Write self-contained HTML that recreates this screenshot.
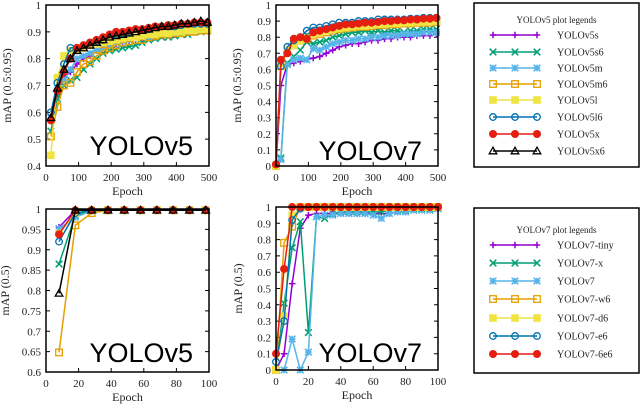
<!DOCTYPE html>
<html><head><meta charset="utf-8"><style>
body{margin:0;background:#fff}
svg{display:block}
text{font-family:"Liberation Serif",serif;fill:#222}
</style></head><body>
<svg id="c" width="640" height="406"></svg>
<script>
// ---- data ----
const tlEpochs=[15,35,55,75,95,115,135,155,175,195,215,235,255,275,295,315,335,355,375,395,415,435,455,475,495];
const v5s=[0.57,0.67,0.73,0.75,0.78,0.80,0.81,0.83,0.84,0.85,0.855,0.86,0.865,0.87,0.875,0.88,0.88,0.885,0.89,0.89,0.895,0.90,0.90,0.905,0.905];
const v5s6=[0.53,0.65,0.70,0.72,0.73,0.76,0.78,0.80,0.82,0.83,0.835,0.84,0.845,0.85,0.86,0.87,0.875,0.88,0.88,0.885,0.89,0.89,0.90,0.90,0.905];
const v5m=[0.58,0.69,0.72,0.76,0.80,0.81,0.82,0.83,0.84,0.85,0.86,0.865,0.87,0.875,0.88,0.88,0.885,0.89,0.89,0.895,0.90,0.90,0.905,0.905,0.91];
const v5m6=[0.51,0.62,0.70,0.71,0.75,0.78,0.79,0.81,0.83,0.84,0.85,0.86,0.865,0.87,0.87,0.88,0.885,0.89,0.89,0.895,0.895,0.90,0.90,0.905,0.905];
const v5l=[0.44,0.73,0.81,0.83,0.835,0.84,0.85,0.855,0.86,0.865,0.87,0.875,0.88,0.88,0.885,0.89,0.89,0.895,0.895,0.90,0.90,0.905,0.905,0.91,0.91];
const v5l6=[0.60,0.71,0.78,0.84,0.84,0.85,0.86,0.865,0.87,0.89,0.89,0.895,0.90,0.91,0.91,0.91,0.92,0.92,0.92,0.92,0.925,0.93,0.93,0.93,0.93];
const v5x=[0.57,0.68,0.75,0.80,0.84,0.85,0.86,0.87,0.88,0.89,0.90,0.90,0.905,0.91,0.91,0.915,0.92,0.92,0.925,0.925,0.93,0.93,0.935,0.935,0.935];
const v5x6=[0.58,0.69,0.76,0.80,0.83,0.84,0.85,0.86,0.87,0.88,0.885,0.89,0.895,0.90,0.905,0.91,0.915,0.92,0.92,0.925,0.93,0.93,0.935,0.94,0.935];

const trEpochs=[0,15,35,55,75,95,115,135,155,175,195,215,235,255,275,295,315,335,355,375,395,415,435,455,475,495];
const v7tiny=[0.0,0.50,0.63,0.64,0.65,0.66,0.67,0.68,0.70,0.72,0.74,0.75,0.76,0.76,0.77,0.78,0.78,0.79,0.79,0.80,0.80,0.80,0.81,0.81,0.81,0.82];
const v7x=[0.0,0.05,0.64,0.68,0.72,0.77,0.76,0.77,0.78,0.80,0.81,0.82,0.83,0.83,0.84,0.83,0.84,0.83,0.84,0.84,0.83,0.84,0.84,0.85,0.85,0.85];
const v7=[0.0,0.04,0.63,0.66,0.67,0.66,0.73,0.72,0.74,0.76,0.77,0.78,0.78,0.79,0.79,0.80,0.80,0.81,0.81,0.81,0.82,0.82,0.82,0.83,0.83,0.83];
const v7w6=[0.0,0.62,0.71,0.75,0.78,0.79,0.81,0.82,0.83,0.84,0.85,0.855,0.86,0.865,0.865,0.87,0.875,0.875,0.88,0.88,0.885,0.885,0.89,0.89,0.89,0.895];
const v7d6=[0.0,0.64,0.72,0.75,0.78,0.80,0.82,0.83,0.84,0.85,0.855,0.86,0.865,0.87,0.87,0.875,0.88,0.88,0.885,0.885,0.89,0.89,0.895,0.895,0.90,0.90];
const v7e6=[0.01,0.62,0.74,0.78,0.80,0.84,0.86,0.86,0.87,0.88,0.89,0.89,0.89,0.90,0.90,0.90,0.91,0.91,0.91,0.91,0.91,0.915,0.915,0.92,0.92,0.92];
const v7e6e6=[0.01,0.66,0.70,0.79,0.80,0.79,0.83,0.84,0.85,0.86,0.87,0.88,0.88,0.885,0.89,0.89,0.895,0.90,0.90,0.905,0.905,0.91,0.91,0.915,0.915,0.92];

const blEpochs=[8,18,28,38,48,58,68,78,88,98];
const b5s=[0.955,0.997,0.997,0.997,0.997,0.997,0.997,0.997,0.997,0.997];
const b5s6=[0.865,0.985,0.995,0.997,0.997,0.997,0.997,0.997,0.997,0.997];
const b5m=[0.952,0.98,0.995,0.997,0.997,0.997,0.997,0.997,0.997,0.997];
const b5m6=[0.648,0.96,0.99,0.997,0.997,0.997,0.997,0.997,0.997,0.997];
const b5l=[0.94,0.99,0.997,0.997,0.997,0.997,0.997,0.997,0.997,0.997];
const b5l6=[0.92,0.99,0.997,0.997,0.997,0.997,0.997,0.997,0.997,0.997];
const b5x=[0.938,0.997,0.997,0.997,0.997,0.997,0.997,0.997,0.997,0.997];
const b5x6=[0.793,0.997,0.997,0.997,0.997,0.997,0.997,0.997,0.997,0.997];

const brEpochs=[0,5,10,15,20,25,30,35,40,45,50,55,60,65,70,75,80,85,90,95,100];
const b7tiny=[0,0.10,0.53,0.87,0.95,0.96,0.96,0.96,0.96,0.96,0.96,0.96,0.96,0.96,0.96,0.97,0.97,0.98,0.99,0.99,0.99];
const b7x=[0,0.41,0.75,0.91,0.23,0.94,0.93,0.96,0.97,0.97,0.97,0.97,0.97,0.97,0.98,0.98,0.98,0.99,0.99,0.99,0.99];
const b7=[0,0,0.19,0,0.11,0.94,0.95,0.95,0.96,0.96,0.96,0.96,0.95,0.93,0.96,0.97,0.97,0.98,0.98,0.98,0.99];
const b7w6=[0,0.78,0.88,1,1,1,1,1,1,1,1,1,1,1,1,1,1,1,1,1,1];
const b7d6=[0,0.33,0.95,1,1,1,1,1,1,1,1,1,1,1,1,1,1,1,1,1,1];
const b7e6=[0.05,0.30,0.92,0.99,1,1,1,1,1,1,1,1,1,1,1,1,1,1,1,1,1];
const b7e6e6=[0.10,0.62,1,1,1,1,1,1,1,1,1,1,1,1,1,1,1,1,1,1,1];

const v5names=["YOLOv5s","YOLOv5s6","YOLOv5m","YOLOv5m6","YOLOv5l","YOLOv5l6","YOLOv5x","YOLOv5x6"];
const v7names=["YOLOv7-tiny","YOLOv7-x","YOLOv7","YOLOv7-w6","YOLOv7-d6","YOLOv7-e6","YOLOv7-6e6"];

// ---- styles ----
const STY=[["#9400d3","plus"],["#009e73","cross"],["#56b4e9","star"],["#e69f00","osq"],["#f0e442","fsq"],["#0072b2","ocirc"],["#e51e10","fcirc"],["#000","otri"]];
const NS="http://www.w3.org/2000/svg";
const svg=document.getElementById('c');
function el(tag,attrs,parent){const e=document.createElementNS(NS,tag);for(const k in attrs)e.setAttribute(k,attrs[k]);(parent||svg).appendChild(e);return e;}

function marker(g,kind,col,x,y){
  const s=3.3;
  if(kind==="plus"){el('path',{d:`M${x-s} ${y}H${x+s}M${x} ${y-s}V${y+s}`,stroke:col,'stroke-width':1.5,fill:'none'},g);}
  else if(kind==="cross"){el('path',{d:`M${x-s} ${y-s}L${x+s} ${y+s}M${x-s} ${y+s}L${x+s} ${y-s}`,stroke:col,'stroke-width':1.5,fill:'none'},g);}
  else if(kind==="star"){el('path',{d:`M${x-s} ${y-s}L${x+s} ${y+s}M${x-s} ${y+s}L${x+s} ${y-s}M${x-s} ${y}H${x+s}M${x} ${y-s}V${y+s}`,stroke:col,'stroke-width':1.6,fill:'none'},g);}
  else if(kind==="osq"){el('rect',{x:x-s,y:y-s,width:2*s,height:2*s,stroke:col,'stroke-width':1.3,fill:'none'},g);}
  else if(kind==="fsq"){el('rect',{x:x-s-0.5,y:y-s-0.5,width:2*s+1,height:2*s+1,fill:col},g);}
  else if(kind==="ocirc"){el('circle',{cx:x,cy:y,r:s,stroke:col,'stroke-width':1.3,fill:'none'},g);}
  else if(kind==="fcirc"){el('circle',{cx:x,cy:y,r:s+0.7,fill:col},g);}
  else if(kind==="otri"){el('path',{d:`M${x} ${y-s-0.5}L${x+s+0.5} ${y+s-0.5}L${x-s-0.5} ${y+s-0.5}Z`,stroke:col,'stroke-width':1.3,fill:'none'},g);}
}

function panel(name,box,xd,yd,xt,yt,yfmt,xs,seriesList,styleIdx,ytitle,big,bigY){
  const g=el('g',{});
  
  
  const X=v=>box.l+(v-xd[0])/(xd[1]-xd[0])*(box.r-box.l);
  const Y=v=>box.b-(v-yd[0])/(yd[1]-yd[0])*(box.b-box.t);
  const ax=el('g',{},g);
  
  
  xt.forEach(v=>{const x=X(v);
    el('path',{d:`M${x} ${box.b}V${box.b-4}M${x} ${box.t}V${box.t+4}`,stroke:'#000','stroke-width':1},ax);
    const t=el('text',{x:x,y:box.b+15,'text-anchor':'middle','font-size':11},ax);t.textContent=v;});
  yt.forEach(v=>{const y=Y(v);
    el('path',{d:`M${box.l} ${y}H${box.l+4}M${box.r} ${y}H${box.r-4}`,stroke:'#000','stroke-width':1},ax);
    const t=el('text',{x:box.l-5,y:y+4,'text-anchor':'end','font-size':11},ax);t.textContent=yfmt(v);});
  const xl=el('text',{x:(box.l+box.r)/2,y:box.b+29,'text-anchor':'middle','font-size':12},g);
  
  
  xl.textContent="Epoch";
  const cy=(box.t+box.b)/2;
  const yl=el('text',{x:ytitle,y:cy,'text-anchor':'middle','font-size':12,transform:`rotate(-90 ${ytitle} ${cy})`},g);
  
  
  yl.textContent=ytitle>200?(yd[0]===0&&name.indexOf('map50-')===0?"mAP (0.5)":"mAP (0.5:0.95)"):(name.indexOf('map50-')===0?"mAP (0.5)":"mAP (0.5:0.95)");
  seriesList.forEach((vals,i)=>{
    const [col,kind]=STY[styleIdx[i]];
    const sg=el('g',{},g);
    
    
    const d=vals.map((v,j)=>(j?'L':'M')+X(xs[j]).toFixed(1)+' '+Y(v).toFixed(1)).join('');
    el('path',{d:d,stroke:col,'stroke-width':1.5,fill:'none'},sg);
    vals.forEach((v,j)=>marker(sg,kind,col,X(xs[j]),Y(v)));
  });
  el('rect',{x:box.l,y:box.t,width:box.r-box.l,height:box.b-box.t,fill:'none',stroke:'#000','stroke-width':1.5},g);
  const bt=el('text',{x:box.r-16,y:bigY,'text-anchor':'end','font-size':27,style:'font-family:"Liberation Sans",sans-serif;fill:#000'},g);
  
  
  bt.textContent=big;
}

function legend(name,box,title,names,styleIdx,rowY){
  const g=el('g',{});
  
  
  el('rect',{x:box.l,y:box.t,width:box.r-box.l,height:box.b-box.t,fill:'#fff',stroke:'#000','stroke-width':1.5},g);
  const tt=el('text',{x:(box.l+box.r)/2,y:rowY[0]-12,'text-anchor':'middle','font-size':9},g);
  tt.textContent=title;
  names.forEach((n,i)=>{
    const [col,kind]=STY[styleIdx[i]];const y=rowY[i];
    const eg=el('g',{},g);
    
    
    el('path',{d:`M493 ${y}H537`,stroke:col,'stroke-width':1.5},eg);
    [493,515,537].forEach(x=>marker(eg,kind,col,x,y));
    const t=el('text',{x:557,y:y+3.5,'font-size':10},eg);t.textContent=n;
  });
}

const f1=v=>(Math.round(v*10)/10).toString();
const f2=v=>(Math.round(v*100)/100).toString();
const i8=[0,1,2,3,4,5,6,7], i7=[0,1,2,3,4,5,6];

panel('map5095-yolov5',{l:46,r:209,t:5,b:166},[0,500],[0.4,1],[0,100,200,300,400,500],[0.4,0.5,0.6,0.7,0.8,0.9,1],f1,tlEpochs,[v5s,v5s6,v5m,v5m6,v5l,v5l6,v5x,v5x6],i8,11,"YOLOv5",155);
panel('map5095-yolov7',{l:276,r:438,t:5,b:166},[0,500],[0,1],[0,100,200,300,400,500],[0,0.1,0.2,0.3,0.4,0.5,0.6,0.7,0.8,0.9,1],f1,trEpochs,[v7tiny,v7x,v7,v7w6,v7d6,v7e6,v7e6e6],i7,241,"YOLOv7",160);
panel('map50-yolov5',{l:46,r:209,t:209,b:372},[0,100],[0.6,1],[0,20,40,60,80,100],[0.6,0.65,0.7,0.75,0.8,0.85,0.9,0.95,1],f2,blEpochs,[b5s,b5s6,b5m,b5m6,b5l,b5l6,b5x,b5x6],i8,9,"YOLOv5",362);
panel('map50-yolov7',{l:276,r:438,t:207,b:370},[0,100],[0,1],[0,20,40,60,80,100],[0,0.1,0.2,0.3,0.4,0.5,0.6,0.7,0.8,0.9,1],f1,brEpochs,[b7tiny,b7x,b7,b7w6,b7d6,b7e6,b7e6e6],i7,242,"YOLOv7",362);

legend('legend-yolov5',{l:474,r:639,t:3,b:167},"YOLOv5 plot legends",v5names,i8,[35,52,68,84,100,117,134,151]);
legend('legend-yolov7',{l:474,r:639,t:208,b:373},"YOLOv7 plot legends",v7names,i7,[245,263,281,299,318,336,354]);
</script>
</body></html>
